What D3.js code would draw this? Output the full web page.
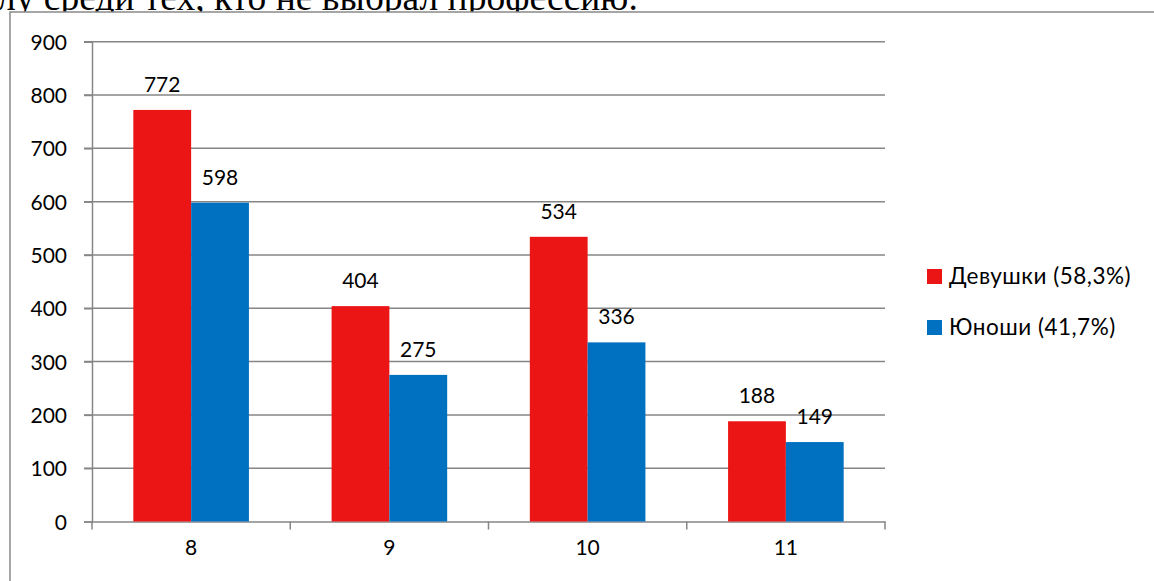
<!DOCTYPE html>
<html><head><meta charset="utf-8">
<script src="https://cdn.jsdelivr.net/npm/d3@7"></script>
<style>body{margin:0;background:#fff;overflow:hidden}svg{display:block}</style>
</head><body><svg id="c" width="1154" height="581"></svg>
<script>
const categories = ["8", "9", "10", "11"];
const seriesNames = ["Девушки (58,3%)", "Юноши (41,7%)"];
const girls = [772, 404, 534, 188];
const boys = [598, 275, 336, 149];
const yTicks = [0, 100, 200, 300, 400, 500, 600, 700, 800, 900];
const colors = ["#EC1515", "#0070C0"];
const headerText = "лу среди тех, кто не выбрал профессию.";

const svg = d3.select("#c");
const font = "Lato, 'Open Sans', sans-serif";

svg.append("text").attr("x", -3).attr("y", 10).attr("font-family", "'Liberation Serif', serif")
  .attr("font-size", 37.5).attr("fill", "#000").text(headerText);

svg.append("rect").attr("x", 10).attr("y", 12).attr("width", 1160).attr("height", 600)
  .attr("fill", "#fff").attr("stroke", "#898989").attr("stroke-width", 1.5);

const x0 = 92, x1 = 885, yTop = 41.7, yBot = 521.5;
const x = d3.scaleBand().domain(categories).range([x0, x1]).paddingInner(0).paddingOuter(0);
const y = d3.scaleLinear().domain([0, 900]).range([yBot, yTop]);
const inner = d3.scaleBand().domain([0, 1]).range([0, x.bandwidth()]).paddingOuter(0.715).paddingInner(0);

// gridlines
svg.append("g").selectAll("line").data(yTicks.filter(d => d > 0)).join("line")
  .attr("x1", x0 - 8).attr("x2", x1).attr("y1", d => y(d)).attr("y2", d => y(d))
  .attr("stroke", "#868686").attr("stroke-width", 1.5);

// y axis
const ya = svg.append("g").attr("transform", `translate(${x0},0)`)
  .call(d3.axisLeft(y).tickValues(yTicks).tickSize(8).tickPadding(17).tickFormat(d3.format("d")));
ya.select(".domain").attr("stroke", "#868686").attr("stroke-width", 1.5);
ya.selectAll(".tick line").attr("stroke", "#868686").attr("stroke-width", 1.5);
ya.selectAll("text").attr("font-family", font).attr("font-size", 21).attr("fill", "#000").attr("dy", "0.36em");

// x axis
const xa = svg.append("g").attr("transform", `translate(0,${yBot})`)
  .call(d3.axisBottom(x).tickSize(0).tickPadding(19));
xa.select(".domain").attr("stroke", "#868686").attr("stroke-width", 1.5);
xa.selectAll("text").attr("font-family", font).attr("font-size", 21).attr("fill", "#000").attr("dy", "0.71em");
// category boundary ticks
svg.append("g").selectAll("line").data(categories.concat(["end"])).join("line")
  .attr("x1", (d, i) => i < categories.length ? x(d) : x1)
  .attr("x2", (d, i) => i < categories.length ? x(d) : x1)
  .attr("y1", yBot).attr("y2", yBot + 8).attr("stroke", "#868686").attr("stroke-width", 1.5);

const data = [girls, boys];
data.forEach((vals, s) => {
  const g = svg.append("g");
  g.selectAll("rect").data(vals).join("rect")
    .attr("x", (d, i) => x(categories[i]) + inner(s))
    .attr("y", d => y(d)).attr("width", inner.bandwidth()).attr("height", d => yBot - y(d))
    .attr("fill", colors[s]);
  g.selectAll("text").data(vals).join("text")
    .attr("x", (d, i) => x(categories[i]) + inner(s) + inner.bandwidth() / 2)
    .attr("y", d => y(d) - 18).attr("text-anchor", "middle")
    .attr("font-family", font).attr("font-size", 21).attr("fill", "#000").text(d => d);
});

// legend
const lg = svg.append("g").attr("transform", "translate(927,269)");
seriesNames.forEach((n, i) => {
  lg.append("rect").attr("x", 0).attr("y", i * 51).attr("width", 15).attr("height", 15).attr("fill", colors[i]);
  lg.append("text").attr("x", 22).attr("y", i * 51 + 15).attr("font-family", font).attr("font-size", 22.5)
    .attr("letter-spacing", 0.5).attr("fill", "#000").text(n);
});
</script></body></html>
